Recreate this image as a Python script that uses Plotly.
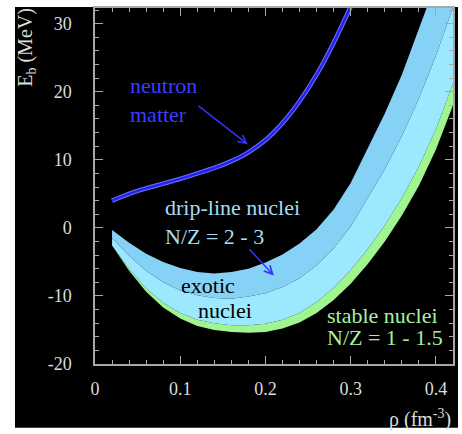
import plotly.graph_objects as go

# Density grid (fm^-3) shared by the nuclear-matter bands
rho = [0.02, 0.04, 0.06, 0.08, 0.10, 0.12, 0.14, 0.16, 0.18, 0.20, 0.22,
       0.24, 0.26, 0.28, 0.30, 0.32, 0.34, 0.36, 0.38, 0.40, 0.42]

# Band boundaries, binding energy per nucleon (MeV)
e_upper = [-0.3, -2.2, -3.8, -5.0, -5.9, -6.5, -6.7, -6.5, -6.0, -5.1, -3.9,
           -2.3, -0.2, 2.7, 6.6, 11.6, 16.8, 22.5, 29.0, 36.0, 43.5]      # drip-line top
e_middle = [-1.5, -4.1, -6.3, -8.0, -9.2, -9.9, -10.3, -10.4, -10.1, -9.6, -8.7,
            -7.4, -5.5, -3.0, 0.2, 4.3, 8.6, 13.5, 19.0, 25.3, 32.4]     # drip-line / exotic
e_green_top = [-2.6, -6.0, -8.9, -11.0, -12.5, -13.5, -14.0, -14.3, -14.3, -14.1, -13.5,
               -12.5, -10.9, -8.8, -6.2, -3.1, 0.4, 4.4, 9.0, 14.5, 21.2]
e_lower = [-2.6, -6.3, -9.4, -11.7, -13.3, -14.4, -15.0, -15.3, -15.4, -15.3, -14.8,
           -13.9, -12.5, -10.6, -8.2, -5.3, -2.0, 1.8, 6.2, 11.5, 18.0]  # stable bottom

# Pure neutron matter
rho_n = [0.02, 0.04, 0.06, 0.08, 0.10, 0.12, 0.14, 0.16, 0.18, 0.20,
         0.22, 0.24, 0.26, 0.28, 0.30]
e_n = [4.0, 5.0, 5.8, 6.5, 7.2, 8.0, 8.8, 9.8, 11.1, 12.9,
       15.4, 18.6, 22.5, 27.2, 32.5]

x_ticks = [0, 0.1, 0.2, 0.3, 0.4]
x_labels = ["0", "0.1", "0.2", "0.3", "0.4"]
y_ticks = [-20, -10, 0, 10, 20, 30]
y_labels = ["-20", "-10", "0", "10", "20", "30"]

GREEN = "#a0f590"
CYAN_LIGHT = "#9be8ff"
CYAN_DARK = "#86d2f6"
SERIF = "Liberation Serif"
AXIS = "#a8a8a8"
LABEL = "#dcdcdc"

fig = go.Figure()

fig.add_trace(go.Scatter(x=rho, y=e_lower, mode="lines", line=dict(width=0, color=GREEN),
                         hoverinfo="skip", showlegend=False))
fig.add_trace(go.Scatter(x=rho, y=e_green_top, mode="lines", fill="tonexty", fillcolor=GREEN,
                         line=dict(width=0, color=GREEN), hoverinfo="skip", showlegend=False))
fig.add_trace(go.Scatter(x=rho, y=e_middle, mode="lines", fill="tonexty", fillcolor=CYAN_LIGHT,
                         line=dict(width=0, color=CYAN_LIGHT), hoverinfo="skip", showlegend=False))
fig.add_trace(go.Scatter(x=rho, y=e_upper, mode="lines", fill="tonexty", fillcolor=CYAN_DARK,
                         line=dict(width=0, color=CYAN_DARK), hoverinfo="skip", showlegend=False))

# Neutron matter curve: light halo under a saturated blue core
fig.add_trace(go.Scatter(x=rho_n, y=e_n, mode="lines", line=dict(width=4.5, color="#7070ff", shape="spline"),
                         hoverinfo="skip", showlegend=False))
fig.add_trace(go.Scatter(x=rho_n, y=e_n, mode="lines", line=dict(width=2.5, color="#2323f0", shape="spline"),
                         hoverinfo="skip", showlegend=False))

axis_common = dict(
    showgrid=False, zeroline=False, showline=True, linecolor=AXIS, linewidth=1.5,
    mirror="ticks", ticks="inside", ticklen=8, tickwidth=1.2, tickcolor=AXIS,
    tickfont=dict(family=SERIF, size=18, color=LABEL),
)

fig.update_xaxes(range=[0, 0.42], tickvals=x_ticks, ticktext=x_labels,
                 minor=dict(dtick=0.02, ticks="inside", ticklen=4, tickcolor=AXIS, tickwidth=1),
                 ticklabelstandoff=8, **axis_common)
fig.update_yaxes(range=[-20, 32.3], tickvals=y_ticks, ticktext=y_labels,
                 minor=dict(dtick=2, ticks="inside", ticklen=4, tickcolor=AXIS, tickwidth=1),
                 ticklabelstandoff=18, **axis_common)

annotations = [
    dict(x=-0.19, y=0.891, xref="paper", yref="paper", text="E<sub>b</sub> (MeV)",
         textangle=-90, showarrow=False, font=dict(family=SERIF, size=20, color=LABEL),
         xanchor="center", yanchor="middle"),
    dict(x=1.0, y=-0.152, xref="paper", yref="paper", text="ρ (fm<sup>-3</sup>)",
         showarrow=False, font=dict(family=SERIF, size=20, color=LABEL),
         xanchor="right", yanchor="middle"),
    dict(x=0.0387, y=18.8, text="neutron<br>matter", showarrow=False, align="left",
         xanchor="left", yanchor="middle", font=dict(family=SERIF, size=22, color="#3c3cff")),
    dict(x=0.0797, y=0.9, text="drip-line nuclei<br>N/Z = 2 - 3", showarrow=False, align="left",
         xanchor="left", yanchor="middle", font=dict(family=SERIF, size=22, color="#a6dcf4")),
    dict(x=0.1325, y=-8.5, text="exotic", showarrow=False,
         xanchor="center", yanchor="middle", font=dict(family=SERIF, size=22, color="#000000")),
    dict(x=0.153, y=-12.1, text="nuclei", showarrow=False,
         xanchor="center", yanchor="middle", font=dict(family=SERIF, size=22, color="#000000")),
    dict(x=0.2696, y=-12.85, text="stable nuclei", showarrow=False,
         xanchor="left", yanchor="middle", font=dict(family=SERIF, size=22, color="#a8f0a0")),
    dict(x=0.2696, y=-16.06, text="N/Z = 1 - 1.5", showarrow=False,
         xanchor="left", yanchor="middle", font=dict(family=SERIF, size=22, color="#a8f0a0")),
    # pointer arrows
    dict(x=0.1794, y=12.26, ax=0.1196, ay=18.1, axref="x", ayref="y", text="",
         showarrow=True, arrowhead=5, arrowsize=1.1, arrowwidth=1.5, arrowcolor="#3333ff"),
    dict(x=0.2098, y=-7.0, ax=0.1794, ay=-2.92, axref="x", ayref="y", text="",
         showarrow=True, arrowhead=5, arrowsize=1.1, arrowwidth=1.5, arrowcolor="#3333ff"),
]

fig.update_layout(
    width=462, height=434,
    margin=dict(l=95, r=9, t=6, b=70),
    paper_bgcolor="#ffffff", plot_bgcolor="#000000",
    showlegend=False,
    annotations=annotations,
    shapes=[dict(type="rect", xref="paper", yref="paper",
                 x0=-0.2235, x1=1.014, y0=-0.1788, y1=1.0028,
                 fillcolor="#000000", line=dict(width=0), layer="below")],
)

fig.write_html("out.html")
